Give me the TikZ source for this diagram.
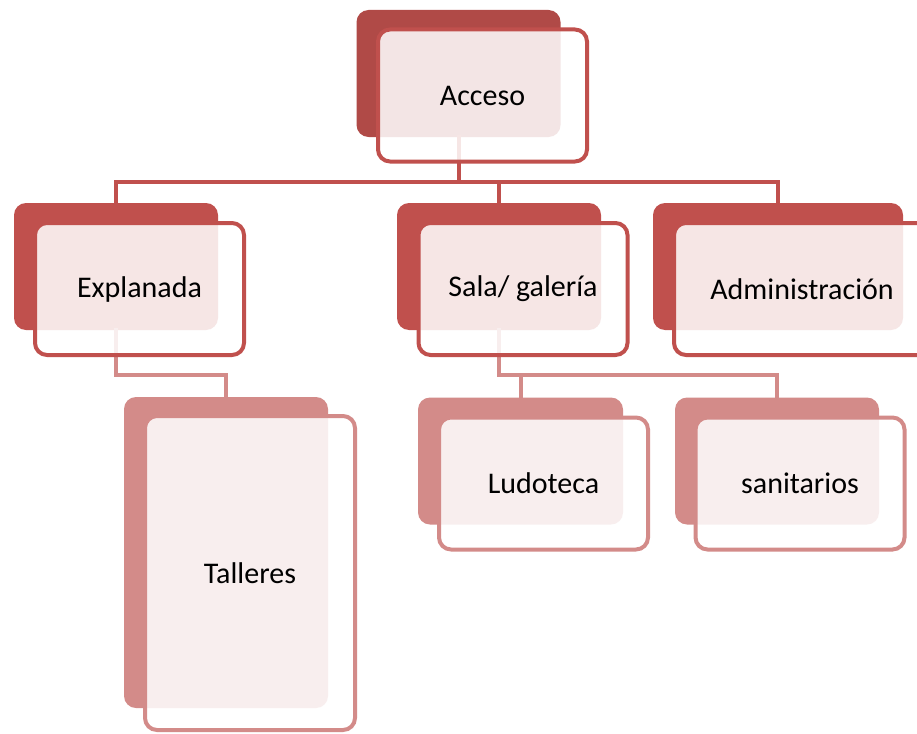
\documentclass[tikz,border=0pt]{standalone}
\usepackage{fontspec}
\setmainfont{Carlito}
\usetikzlibrary{positioning}
\definecolor{darkred}{HTML}{B04A47}
\definecolor{midred}{HTML}{C0504D}
\definecolor{lightred}{HTML}{D38B89}

\begin{document}
\begin{tikzpicture}[x=1pt,y=-1pt,line cap=rect,
	back/.style={rectangle, rounded corners=12pt, inner sep=0pt, fill=#1, minimum width=204pt, minimum height=127pt},
	front/.style={rectangle, rounded corners=12pt, line width=4pt, draw=#1, fill=white, fill opacity=0.86, text opacity=1, minimum width=209pt, minimum height=132pt, font=\fontsize{30}{36}\selectfont},
	link/.style={draw=#1, line width=4pt}]
		\clip (0,0) rectangle (917,733);
		% back boxes
		\node[back=darkred								] at (458.5,73.5)	(ACCESO_B) 		{};
		\node[back=midred								] at (116,266.5)	(EXPLANADA_B) 	{};
		\node[back=midred								] at (499,266.5)	(SALA_B) 		{};
		\node[back=midred, minimum width=250pt			] at (778,266.5)	(ADMIN_B) 		{};
		\node[back=lightred, minimum height=311pt		] at (226,552.5)	(TALLERES_B) 	{};
		\node[back=lightred, minimum width=205pt		] at (520.5,461)	(LUDOTECA_B) 	{};
		\node[back=lightred								] at (777,461)		(SANITARIOS_B) 	{};

		% connectors
		\coordinate (TOP_BUS) at (458.5,182);
		\coordinate (EXPL_BUS) at (116,375);
		\coordinate (SALA_BUS) at (499,375);
		\draw[link=midred]	(ACCESO_B.south) -- (TOP_BUS)
							(EXPLANADA_B.north) |- (TOP_BUS) -| (ADMIN_B.north)
							(TOP_BUS) -| (SALA_B.north);
		\draw[link=lightred]	(EXPLANADA_B.south) -- (EXPL_BUS) -| (TALLERES_B.north)
							(SALA_B.south) -- (SALA_BUS) -| (SANITARIOS_B.north)
							(SALA_BUS) -| (LUDOTECA_B.north);

		% front boxes
		\node[front=midred								] at ([shift={(24,22)}]ACCESO_B.center)		(ACCESO) 		{Acceso};
		\node[front=midred								] at ([shift={(23.5,22.5)}]EXPLANADA_B.center)	(EXPLANADA) 	{Explanada};
		\node[front=midred								] at ([shift={(24,22.5)}]SALA_B.center)		(SALA) 			{Sala/ galería};
		\node[front=midred, minimum width=256pt			] at ([shift={(24,22.5)}]ADMIN_B.center)		(ADMIN) 		{Administración};
		\node[front=lightred, minimum width=210pt, minimum height=314pt] at ([shift={(24,20.5)}]TALLERES_B.center)	(TALLERES) 	{Talleres};
		\node[front=lightred							] at ([shift={(23,22.5)}]LUDOTECA_B.center)	(LUDOTECA) 		{Ludoteca};
		\node[front=lightred							] at ([shift={(23,22.5)}]SANITARIOS_B.center)	(SANITARIOS) 	{sanitarios};
\end{tikzpicture}
\end{document}
